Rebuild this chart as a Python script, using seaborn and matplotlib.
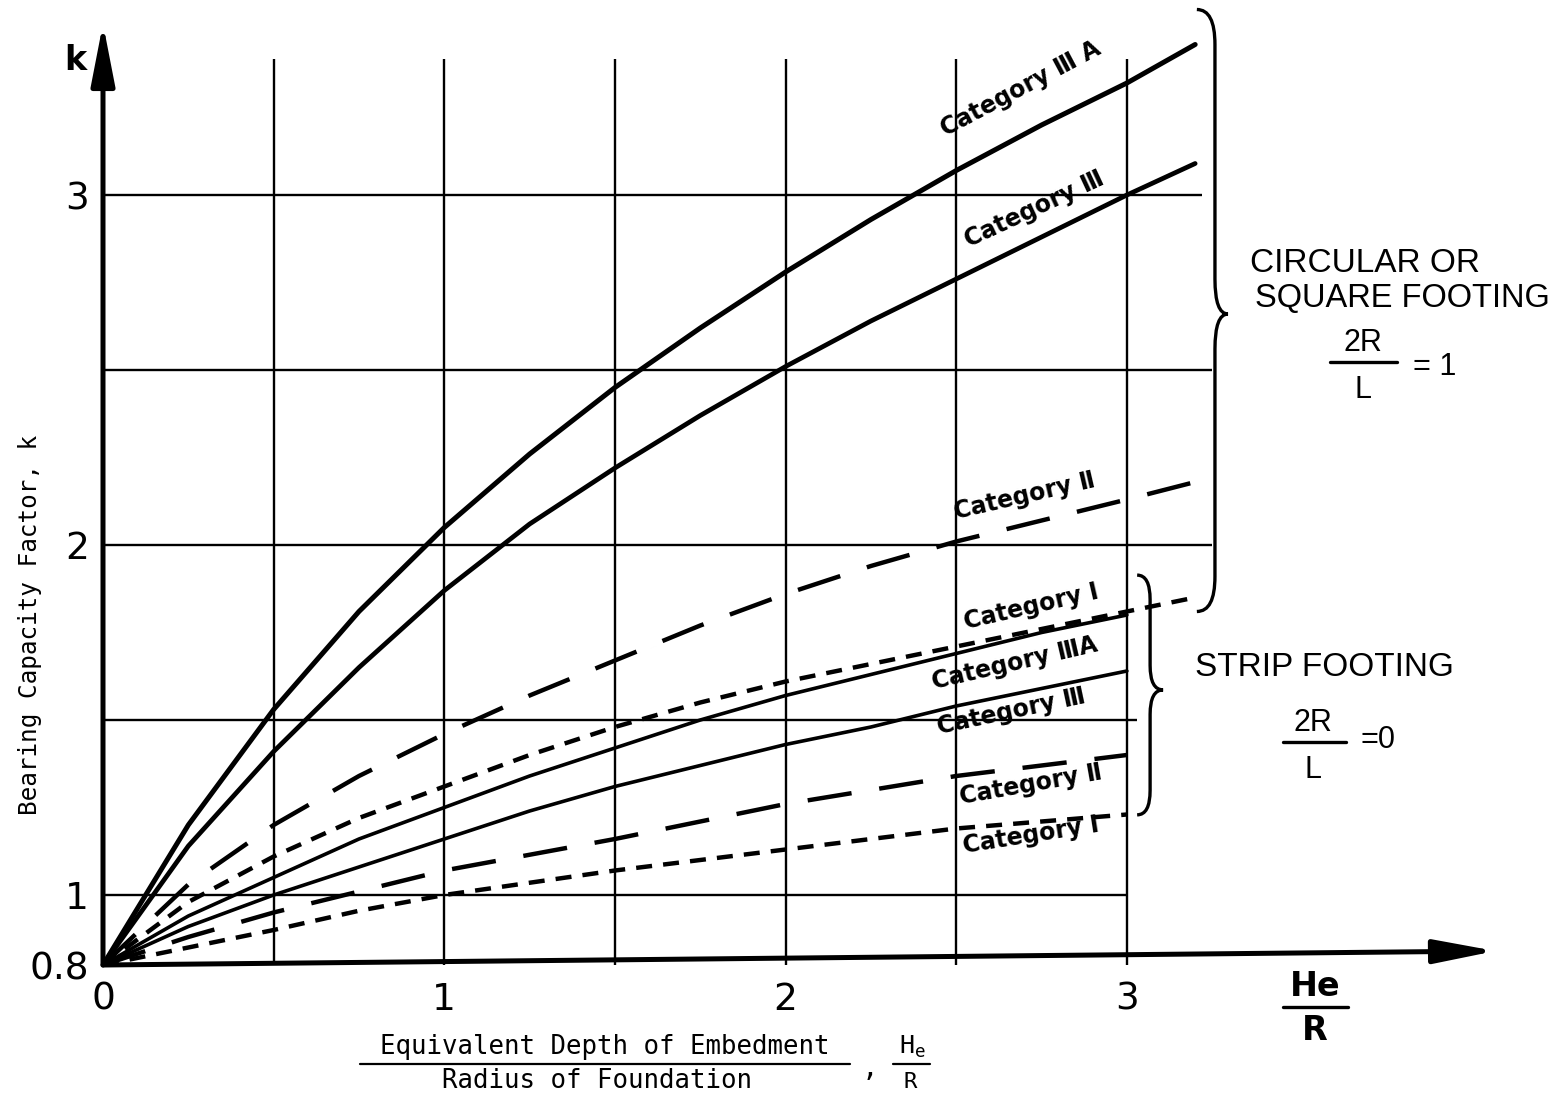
import numpy as np
import pandas as pd
import matplotlib
matplotlib.use("Agg")
import matplotlib.pyplot as plt
from matplotlib.path import Path
from matplotlib.patches import PathPatch
from matplotlib.lines import Line2D
import seaborn as sns

# values (k vs He/R)
he_r = [0, 0.25, 0.5, 0.75, 1.0, 1.25, 1.5, 1.75, 2.0, 2.25, 2.5, 2.75, 3.0, 3.2]
# circular or square footing, 2R/L = 1
circ_3a = [0.80, 1.20, 1.53, 1.81, 2.05, 2.26, 2.45, 2.62, 2.78, 2.93, 3.07, 3.20, 3.32, 3.43]
circ_3 = [0.80, 1.14, 1.41, 1.65, 1.87, 2.06, 2.22, 2.37, 2.51, 2.64, 2.76, 2.88, 3.00, 3.09]
circ_2 = [0.80, 1.03, 1.20, 1.34, 1.46, 1.57, 1.67, 1.77, 1.86, 1.94, 2.01, 2.07, 2.13, 2.18]
circ_1 = [0.80, 0.98, 1.11, 1.22, 1.31, 1.40, 1.48, 1.55, 1.61, 1.66, 1.71, 1.76, 1.81, 1.85]
# strip footing, 2R/L = 0
strip_x = he_r[:13]
strip_3a = [0.80, 0.94, 1.05, 1.16, 1.25, 1.34, 1.42, 1.50, 1.57, 1.63, 1.69, 1.75, 1.80]
strip_3 = [0.80, 0.91, 1.00, 1.08, 1.16, 1.24, 1.31, 1.37, 1.43, 1.48, 1.54, 1.59, 1.64]
strip_2 = [0.80, 0.88, 0.95, 1.01, 1.07, 1.115, 1.16, 1.21, 1.26, 1.30, 1.34, 1.37, 1.40]
strip_1 = [0.80, 0.85, 0.90, 0.955, 1.00, 1.035, 1.07, 1.10, 1.13, 1.16, 1.19, 1.21, 1.23]

x_ticks = [0, 1, 2, 3]
y_ticks = [0.8, 1, 2, 3]
y_ticklabels = ["0.8", "1", "2", "3"]
x_grid = [0.5, 1, 1.5, 2, 2.5, 3]
y_grid = [1, 1.5, 2, 2.5, 3]

sns.set_style("white")
plt.rcParams["font.family"] = ["DejaVu Sans"]
plt.rcParams["text.color"] = "black"
plt.rcParams["xtick.color"] = "black"
plt.rcParams["ytick.color"] = "black"

W, H = 1553, 1100
fig = plt.figure(figsize=(W / 100, H / 100), dpi=100)
ax = fig.add_axes([103 / W, 135 / H, 1450 / W, 965 / H])
ax.set_xlim(0, 1450 / 341.3)
ax.set_ylim(0.8, 0.8 + 965 / 350)
for s in ax.spines.values():
    s.set_visible(False)

def fx(px):
    return px / W

def fy(py):
    return 1 - py / H

# grid
ax.vlines(x_grid, 0.8, 3.39, color="black", lw=1.7)
ax.hlines(y_grid, 0, [3.0, 3.03, 3.25, 3.25, 3.22], color="black", lw=1.7)

# axes arrows
arrow = dict(arrowstyle="-|>,head_length=1.7,head_width=0.33",
             color="black", lw=3.6, mutation_scale=22, shrinkA=0, shrinkB=0)
ax.annotate("", xy=(0, 3.49), xytext=(0, 0.8), arrowprops=arrow, annotation_clip=False)
ax.annotate("", xy=(4.08, 0.84), xytext=(0, 0.8), arrowprops=arrow, annotation_clip=False)

long_dash = (0, (10, 6.3))
short_dash = (0, (3.6, 2.5))

curves = [
    (he_r, circ_3a, "-", 3.6),
    (he_r, circ_3, "-", 3.4),
    (he_r, circ_2, long_dash, 3.2),
    (he_r, circ_1, short_dash, 3.2),
    (strip_x, strip_3a, "-", 2.6),
    (strip_x, strip_3, "-", 2.6),
    (strip_x, strip_2, long_dash, 3.2),
    (strip_x, strip_1, short_dash, 3.2),
]
for xs, ys, ls, lw in curves:
    sns.lineplot(x=xs, y=ys, ax=ax, color="black", lw=lw, linestyle=ls,
                 solid_joinstyle="round")

# curve labels
labels = [
    ("Category \u2162 A", 2.69, 3.305, 28),
    ("Category \u2162", 2.73, 2.96, 25),
    ("Category \u2161", 2.70, 2.14, 13),
    ("Category \u2160", 2.72, 1.823, 13),
    ("Category \u2162A", 2.67, 1.663, 13),
    ("Category \u2162", 2.66, 1.523, 12),
    ("Category \u2161", 2.72, 1.314, 10),
    ("Category \u2160", 2.72, 1.171, 9),
]
for txt, lx, ly, rot in labels:
    ax.text(lx, ly, txt, fontsize=17, fontweight="bold", rotation=rot,
            ha="center", va="center", rotation_mode="anchor")

# braces
def brace(x_left, x_mid, x_tip, y_top, y_mid, y_bot, r):
    verts = [(x_left, y_top), (x_mid, y_top), (x_mid, y_top - r),
             (x_mid, y_mid + r), (x_mid, y_mid), (x_tip, y_mid),
             (x_mid, y_mid), (x_mid, y_mid - r),
             (x_mid, y_bot + r), (x_mid, y_bot), (x_left, y_bot)]
    codes = [Path.MOVETO, Path.CURVE3, Path.CURVE3,
             Path.LINETO, Path.CURVE3, Path.CURVE3,
             Path.CURVE3, Path.CURVE3,
             Path.LINETO, Path.CURVE3, Path.CURVE3]
    ax.add_patch(PathPatch(Path(verts, codes), fill=False, lw=2.4,
                           edgecolor="black", clip_on=False))

brace(3.205, 3.258, 3.296, 3.53, 2.66, 1.81, 0.10)
brace(3.03, 3.068, 3.106, 1.914, 1.586, 1.229, 0.07)

# ticks
ax.set_xticks(x_ticks)
ax.set_xticklabels([str(v) for v in x_ticks])
ax.set_yticks(y_ticks)
ax.set_yticklabels(y_ticklabels)
ax.tick_params(axis="both", length=0, labelsize=27, labelcolor="black")
ax.tick_params(axis="x", pad=12)
ax.tick_params(axis="y", pad=10)

# axis annotations
fig.text(fx(75), fy(60), "k", fontsize=24, fontweight="bold", ha="center", va="center")
fig.text(fx(1315), fy(986), "He", fontsize=24, fontweight="bold", ha="center", va="center")
fig.text(fx(1315), fy(1030), "R", fontsize=24, fontweight="bold", ha="center", va="center")
fig.add_artist(Line2D([fx(1283), fx(1348)], [fy(1007), fy(1007)], color="black", lw=2.4))

mono = "DejaVu Sans Mono"
fig.text(fx(30), fy(625), "Bearing Capacity Factor, k", family=mono, fontsize=17.5,
         rotation=90, ha="center", va="center")
fig.text(fx(605), fy(1047), "Equivalent Depth of Embedment", family=mono, fontsize=18.5,
         ha="center", va="center")
fig.add_artist(Line2D([fx(360), fx(850)], [fy(1064), fy(1064)], color="black", lw=1.6))
fig.text(fx(597), fy(1081), "Radius of Foundation", family=mono, fontsize=18.5,
         ha="center", va="center")
fig.text(fx(870), fy(1068), ",", family=mono, fontsize=20, ha="center", va="center")
fig.text(fx(912), fy(1047), r"$\mathtt{H_e}$", fontsize=18, ha="center", va="center")
fig.add_artist(Line2D([fx(893), fx(930)], [fy(1064), fy(1064)], color="black", lw=1.6))
fig.text(fx(910), fy(1082), "R", family=mono, fontsize=16, ha="center", va="center")

# footing annotations
sans = "Liberation Sans"
fig.text(fx(1250), fy(263), "CIRCULAR OR", family=sans, fontsize=24, ha="left", va="center")
fig.text(fx(1255), fy(298), "SQUARE FOOTING", family=sans, fontsize=23.5, ha="left", va="center")
fig.text(fx(1363), fy(343), "2R", family=sans, fontsize=22, ha="center", va="center")
fig.add_artist(Line2D([fx(1330), fx(1397)], [fy(362), fy(362)], color="black", lw=2.4))
fig.text(fx(1363), fy(390), "L", family=sans, fontsize=22, ha="center", va="center")
fig.text(fx(1435), fy(367), "= 1", family=sans, fontsize=22, ha="center", va="center")

fig.text(fx(1195), fy(668), "STRIP FOOTING", family=sans, fontsize=24, ha="left", va="center")
fig.text(fx(1313), fy(723), "2R", family=sans, fontsize=22, ha="center", va="center")
fig.add_artist(Line2D([fx(1283), fx(1346)], [fy(742), fy(742)], color="black", lw=2.4))
fig.text(fx(1313), fy(770), "L", family=sans, fontsize=22, ha="center", va="center")
fig.text(fx(1378), fy(740), "=0", family=sans, fontsize=22, ha="center", va="center")

fig.savefig("out.png", dpi=100, facecolor="white")
